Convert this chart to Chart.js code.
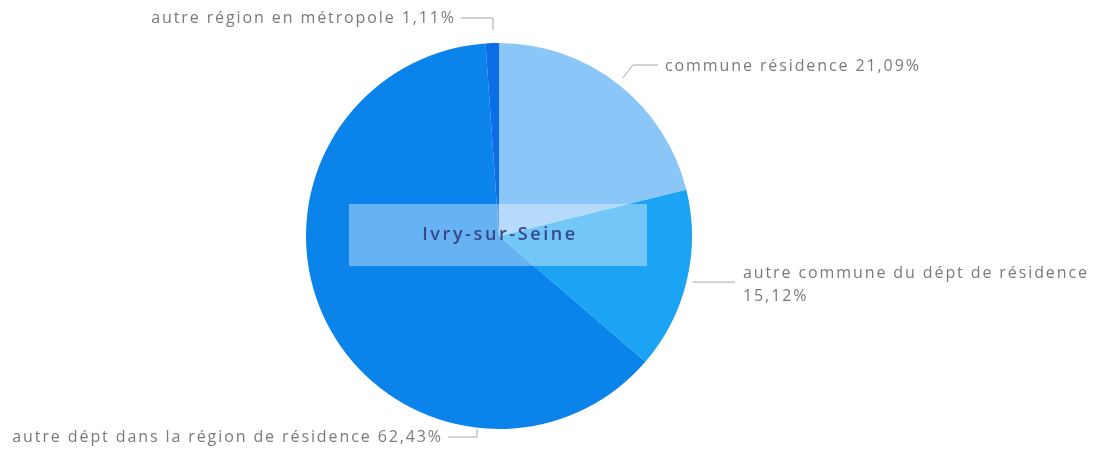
<!DOCTYPE html>
<html>
<head>
<meta charset="utf-8">
<script src="https://cdn.jsdelivr.net/npm/chart.js@4/dist/chart.umd.min.js"></script>
<style>
  html, body { margin: 0; padding: 0; background: #ffffff; }
  #wrap { width: 1094px; height: 464px; position: relative; }
</style>
</head>
<body>
<div id="wrap"><canvas id="c" width="1094" height="464"></canvas></div>
<script>
const categories = [
  'commune résidence',
  'autre commune du dépt de résidence',
  'autre dépt dans la région de résidence',
  'autre région en métropole'
];
const values = [21.09, 15.12, 62.43, 1.11];
const sliceColors = ['#8ac6f7', '#1ca4f4', '#0a84ea', '#0b6ee6'];
const centerTitle = 'Ivry-sur-Seine';

function fmt(v) { return v.toFixed(2).replace('.', ',') + '%'; }

const labelPlugin = {
  id: 'pbiLabels',
  afterDraw(chart) {
    const ctx = chart.ctx;
    const meta = chart.getDatasetMeta(0);
    const a0 = meta.data[0];
    const cx = a0.x, cy = a0.y, R = a0.outerRadius;
    const mid = (arc) => (arc.startAngle + arc.endAngle) / 2;
    const pt = (ang, r) => [cx + Math.cos(ang) * r, cy + Math.sin(ang) * r];

    ctx.save();
    ctx.strokeStyle = '#a8a8a8';
    ctx.lineWidth = 1;
    ctx.fillStyle = '#7a7a7a';
    ctx.font = '16px "Open Sans", sans-serif';
    ctx.letterSpacing = '1.9px';
    ctx.textBaseline = 'middle';

    // label 0 : commune résidence
    {
      const [ax, ay] = pt(mid(meta.data[0]), R + 7);
      const ey = cy - 171;
      ctx.beginPath();
      ctx.moveTo(ax, ay); ctx.lineTo(cx + 134, ey); ctx.lineTo(cx + 159, ey); ctx.stroke();
      ctx.textAlign = 'left';
      ctx.fillText(categories[0] + ' ' + fmt(values[0]), cx + 166, ey + 1);
    }
    // label 1 : autre commune du dépt
    {
      const [ax, ay] = pt(mid(meta.data[1]), R + 6);
      ctx.beginPath();
      ctx.moveTo(ax, ay); ctx.lineTo(cx + 236, ay); ctx.stroke();
      ctx.textAlign = 'left';
      ctx.fillText(categories[1], cx + 244, ay - 9);
      ctx.fillText(fmt(values[1]), cx + 244, ay + 14);
    }
    // label 2 : autre dépt dans la région
    {
      const x = cx - 22;
      const y0 = cy + R;
      const y1 = cy + R + 8;
      ctx.beginPath();
      ctx.moveTo(x, y0); ctx.lineTo(x, y1); ctx.lineTo(x - 29, y1); ctx.stroke();
      ctx.textAlign = 'right';
      ctx.fillText(categories[2] + ' ' + fmt(values[2]), x - 34, y1);
    }
    // label 3 : autre région en métropole
    {
      const x = cx - 6;
      const y0 = cy - R - 13;
      const y1 = cy - R - 25;
      ctx.beginPath();
      ctx.moveTo(x, y0); ctx.lineTo(x, y1); ctx.lineTo(x - 32, y1); ctx.stroke();
      ctx.textAlign = 'right';
      ctx.fillText(categories[3] + ' ' + fmt(values[3]), x - 37, y1);
    }

    // center title box
    ctx.letterSpacing = '0px';
    ctx.fillStyle = 'rgba(255,255,255,0.38)';
    ctx.fillRect(cx - 150, cy - 32, 298, 62);
    ctx.fillStyle = '#37488a';
    ctx.font = '600 18px "Open Sans", sans-serif';
    ctx.letterSpacing = '2.6px';
    ctx.textAlign = 'center';
    ctx.fillText(centerTitle, cx + 1, cy - 1);
    ctx.restore();
  }
};

new Chart(document.getElementById('c'), {
  type: 'pie',
  data: {
    labels: categories,
    datasets: [{
      data: values,
      backgroundColor: sliceColors,
      borderWidth: 0
    }]
  },
  options: {
    responsive: false,
    animation: false,
    layout: { padding: { top: 43, bottom: 35, left: 306, right: 402 } },
    plugins: { legend: { display: false }, tooltip: { enabled: false } }
  },
  plugins: [labelPlugin]
});
</script>
</body>
</html>
